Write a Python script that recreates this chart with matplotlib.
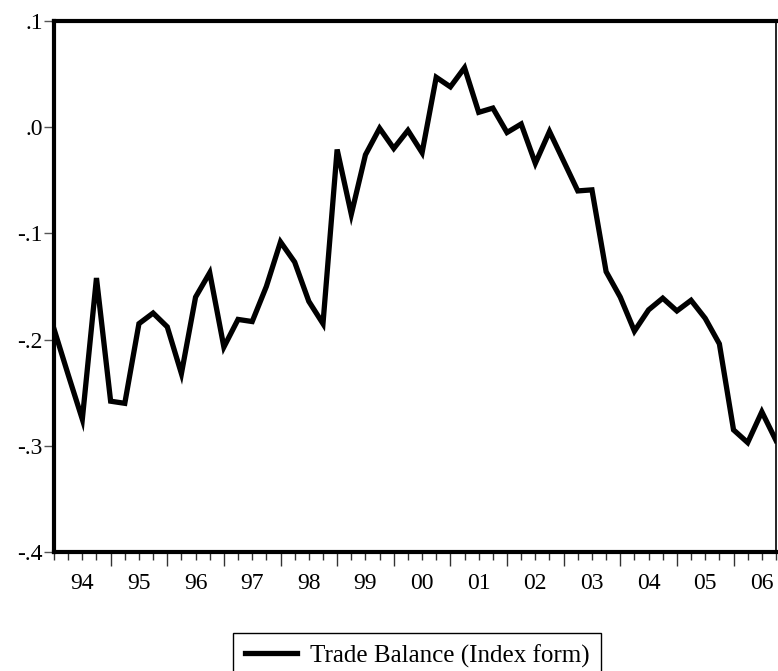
#!/usr/bin/python3

import matplotlib.pyplot as plt
import numpy as np

# Quarterly data, 1994Q1 - 2006Q4
years = ['94', '95', '96', '97', '98', '99', '00', '01', '02', '03', '04', '05', '06']
trade_balance = [
    -0.190, -0.233, -0.275, -0.142,   # 1994
    -0.258, -0.260, -0.185, -0.175,   # 1995
    -0.188, -0.232, -0.160, -0.137,   # 1996
    -0.207, -0.181, -0.183, -0.150,   # 1997
    -0.108, -0.127, -0.164, -0.185,   # 1998
    -0.021, -0.082, -0.026, -0.001,   # 1999
    -0.020, -0.003, -0.024, 0.047,    # 2000
    0.038, 0.056, 0.014, 0.018,       # 2001
    -0.005, 0.003, -0.034, -0.004,    # 2002
    -0.032, -0.060, -0.059, -0.136,   # 2003
    -0.160, -0.192, -0.172, -0.161,   # 2004
    -0.173, -0.163, -0.180, -0.204,   # 2005
    -0.285, -0.297, -0.268, -0.295,   # 2006
]
y_ticks = [0.1, 0.0, -0.1, -0.2, -0.3, -0.4]
y_labels = ['.1', '.0', '-.1', '-.2', '-.3', '-.4']

plt.rcParams['font.family'] = ['Liberation Serif', 'DejaVu Serif']
plt.rcParams['font.size'] = 17

fig = plt.figure(figsize=(7.78, 6.71), dpi=100)
ax = fig.add_axes([54/778, 1 - 552/671, (776 - 54)/778, (552 - 21)/671])

x = np.arange(len(trade_balance))
ax.plot(x, trade_balance, color='black', linewidth=3.8,
        solid_joinstyle='miter', label='Trade Balance (Index form)')

ax.set_xlim(0, len(trade_balance) - 1)
ax.set_ylim(-0.4, 0.1)

# y axis
ax.set_yticks(y_ticks)
ax.set_yticklabels(y_labels)
ax.tick_params(axis='y', direction='out', length=7, width=1, color='#555555', pad=1)

# x axis: quarter ticks, year ticks, year labels in between
ax.set_xticks(np.arange(4, len(trade_balance), 4))
ax.set_xticklabels([])
ax.set_xticks(np.arange(0, len(trade_balance)), minor=True)
ax.tick_params(axis='x', which='major', direction='out', length=10, width=1, color='#333333')
ax.tick_params(axis='x', which='minor', direction='out', length=6, width=1, color='#333333')

sec = ax.secondary_xaxis('bottom')
sec.set_xticks(np.arange(2, len(trade_balance) + 2, 4), labels=years)
sec.tick_params(length=0, pad=15)
sec.spines['bottom'].set_visible(False)

for side in ['left', 'bottom', 'top']:
    ax.spines[side].set_linewidth(3)
ax.spines['right'].set_linewidth(1.2)

fig.legend(loc='upper center', bbox_to_anchor=(417/778, 1 - 633/671),
           frameon=True, fancybox=False, edgecolor='black', framealpha=1,
           fontsize=18, handlelength=2.1, borderpad=0.45, handletextpad=0.5,
           borderaxespad=0)
fig.legends[0].get_frame().set_linewidth(1)

plt.savefig('out.png', dpi=100)
